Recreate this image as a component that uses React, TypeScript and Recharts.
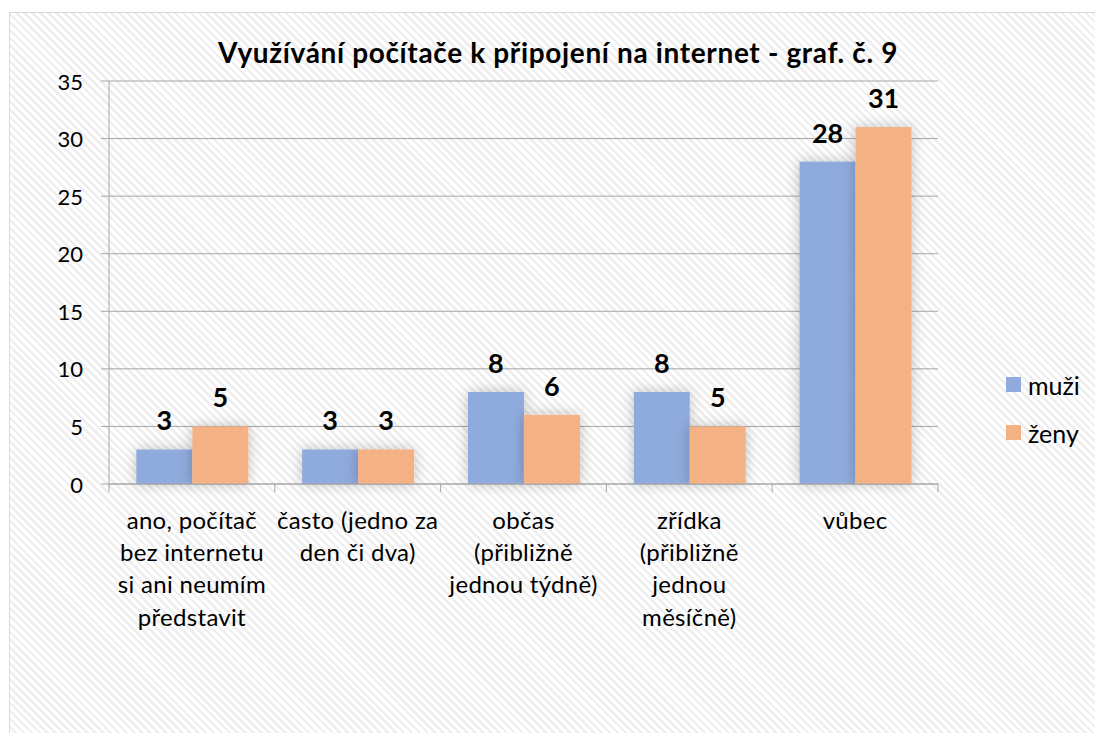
import {
  Bar,
  BarChart,
  CartesianGrid,
  LabelList,
  Legend,
  XAxis,
  YAxis,
} from 'recharts';

const categories = [
  'ano, počítač\nbez internetu\nsi ani neumím\npředstavit',
  'často (jedno za\nden či dva)',
  'občas\n(přibližně\njednou týdně)',
  'zřídka\n(přibližně\njednou\nměsíčně)',
  'vůbec',
];
const muzi = [3, 3, 8, 8, 28];
const zeny = [5, 3, 6, 5, 31];
const yTicks = [0, 5, 10, 15, 20, 25, 30, 35];

const title = 'Využívání počítače k připojení na internet - graf. č. 9';

const data = categories.map((category, i) => ({
  category,
  muzi: muzi[i],
  zeny: zeny[i],
}));

const FONT = 'Lato, "Open Sans", sans-serif';
const GRID = '#a6a6a6';

const YTick = (props: any) => {
  const { x, y, payload } = props;
  return (
    <text
      x={x}
      y={y}
      textAnchor='end'
      dominantBaseline='central'
      fontSize={22}
      fontFamily={FONT}
      fill='#000'
    >
      {payload.value}
    </text>
  );
};

const CategoryTick = (props: any) => {
  const { x, y, payload, index, width } = props;
  const band = width / categories.length;
  const lines = String(payload.value).split('\n');
  return (
    <g>
      <line x1={x - band / 2} x2={x - band / 2} y1={y} y2={y + 8} stroke={GRID} />
      {index === categories.length - 1 && (
        <line x1={x + band / 2} x2={x + band / 2} y1={y} y2={y + 8} stroke={GRID} />
      )}
      {lines.map((line, i) => (
        <text
          key={i}
          x={x}
          y={y + 35 + i * 32.4}
          textAnchor='middle'
          dominantBaseline='central'
          fontSize={24}
          letterSpacing={0.3}
          fontFamily={FONT}
          fill='#000'
        >
          {line}
        </text>
      ))}
    </g>
  );
};

const GlowBar = (props: any) => {
  const { x, y, width, height, fill } = props;
  return (
    <rect
      x={x}
      y={y}
      width={width}
      height={height}
      fill={fill}
      filter='url(#barGlow)'
    />
  );
};

const ValueLabel = (props: any) => {
  const { x, y, width, value } = props;
  return (
    <text
      x={x + width / 2}
      y={y - 19}
      textAnchor='middle'
      fontSize={27}
      fontWeight={700}
      fontFamily={FONT}
      fill='#000'
    >
      {value}
    </text>
  );
};

const LegendBox = (props: any) => {
  const { payload } = props;
  return (
    <svg width={80} height={70} style={{ display: 'block', overflow: 'visible' }}>
      {payload.map((item: any, i: number) => (
        <g key={item.value}>
          <rect x={0} y={i * 48} width={15} height={15} fill={item.color} />
          <text
            x={22}
            y={i * 48 + 7.5}
            dominantBaseline='central'
            fontSize={25}
            fontFamily={FONT}
            fill='#000'
          >
            {item.value}
          </text>
        </g>
      ))}
    </svg>
  );
};

export default function App() {
  return (
    <div
      style={{
        position: 'fixed',
        left: 0,
        top: 0,
        width: 1095,
        height: 733,
        overflow: 'hidden',
        background: '#fff',
      }}
    >
      <div
        style={{
          position: 'absolute',
          left: 9,
          top: 12,
          right: 0,
          bottom: 0,
          borderLeft: '1px solid #d9d9d9',
          borderTop: '1px solid #d9d9d9',
          background:
            'repeating-linear-gradient(45deg, #ffffff 0px, #ffffff 3px, #efefef 3px, #efefef 5.6px)',
        }}
      />
      <div style={{ position: 'absolute', left: 0, top: 0 }}>
        <BarChart
          width={1095}
          height={733}
          data={data}
          margin={{ top: 81, right: 157, bottom: 99, left: 49 }}
          barCategoryGap='16.5%'
          barGap={0}
        >
          <defs>
            <filter id='barGlow' x='-60%' y='-60%' width='220%' height='220%'>
              <feDropShadow
                dx={0}
                dy={0}
                stdDeviation={7}
                floodColor='#000'
                floodOpacity={0.24}
              />
            </filter>
          </defs>
          <text
            x={558}
            y={63}
            textAnchor='middle'
            fontSize={28}
            letterSpacing={0.65}
            fontWeight={700}
            fontFamily={FONT}
            fill='#000'
          >
            {title}
          </text>
          <CartesianGrid stroke={GRID} vertical={false} />
          <XAxis
            dataKey='category'
            interval={0}
            height={150}
            tickSize={0}
            tickMargin={0}
            tickLine={false}
            axisLine={{ stroke: GRID }}
            tick={<CategoryTick />}
          />
          <YAxis
            width={60}
            domain={[0, 35]}
            ticks={yTicks}
            tickSize={8}
            tickMargin={18}
            tickLine={{ stroke: GRID }}
            axisLine={{ stroke: GRID }}
            tick={<YTick />}
          />
          <Legend
            layout='vertical'
            align='center'
            verticalAlign='middle'
            wrapperStyle={{ left: 1006, top: 377, width: 80, height: 70 }}
            content={<LegendBox />}
          />
          <Bar
            dataKey='muzi'
            name='muži'
            fill='#8faadc'
            shape={<GlowBar />}
            isAnimationActive={false}
          >
            <LabelList dataKey='muzi' content={<ValueLabel />} />
          </Bar>
          <Bar
            dataKey='zeny'
            name='ženy'
            fill='#f4b183'
            shape={<GlowBar />}
            isAnimationActive={false}
          >
            <LabelList dataKey='zeny' content={<ValueLabel />} />
          </Bar>
        </BarChart>
      </div>
    </div>
  );
}
